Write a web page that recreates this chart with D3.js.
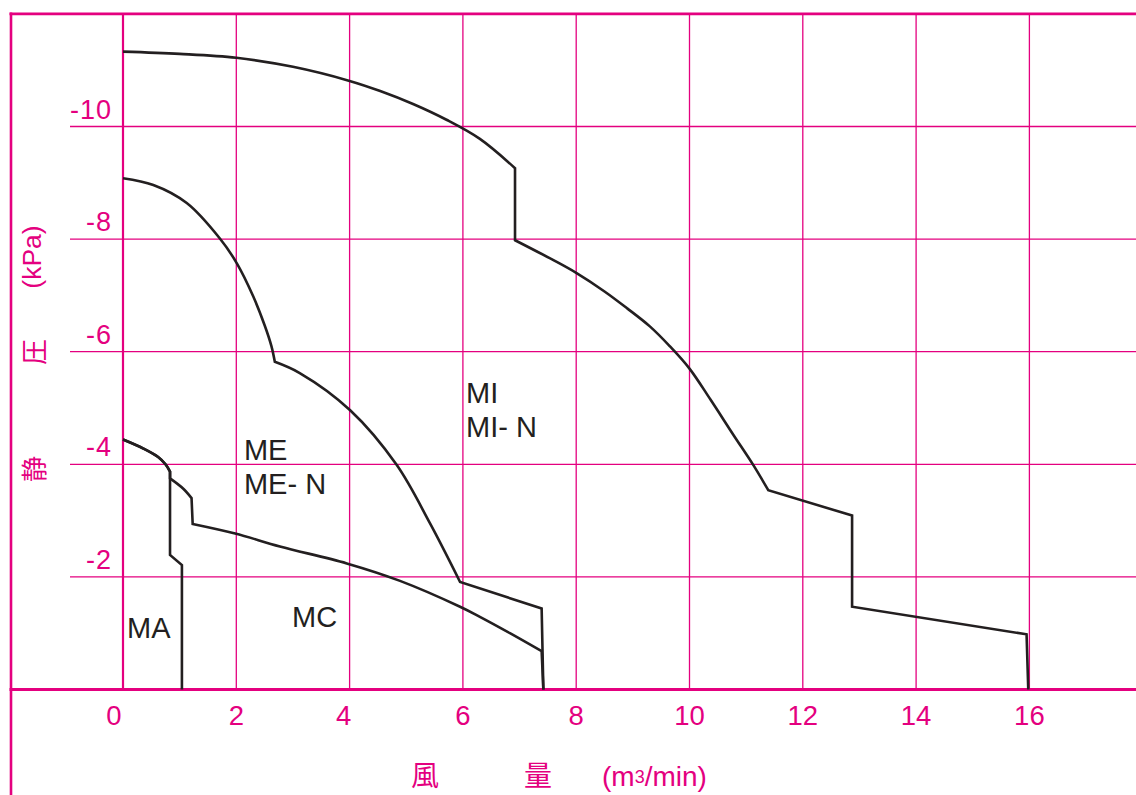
<!DOCTYPE html>
<html>
<head>
<meta charset="utf-8">
<script src="https://cdn.jsdelivr.net/npm/d3@7"></script>
<style>
  html, body { margin: 0; padding: 0; background: #ffffff; }
  svg { display: block; }
</style>
</head>
<body>
<svg id="chart" width="1136" height="795"></svg>
<script>
// ---------- data (flow m3/min, static pressure kPa) ----------
const xTicks = [0, 2, 4, 6, 8, 10, 12, 14, 16];
const yTicks = [-2, -4, -6, -8, -10];
const xTickLabels = ["0", "2", "4", "6", "8", "10", "12", "14", "16"];
const yTickLabels = ["-2", "-4", "-6", "-8", "-10"];

// MI / MI-N
const miArcHigh = [[0, -11.33], [1, -11.29], [2, -11.22], [3, -11.06], [4, -10.81], [4.54, -10.63], [5.12, -10.40], [5.71, -10.12], [6.30, -9.78], [6.92, -9.26]];
const miArcLow  = [[6.92, -7.98], [7.59, -7.63], [8.0, -7.40], [8.5, -7.07], [8.9, -6.77], [9.3, -6.45], [9.65, -6.10], [10.0, -5.70], [10.37, -5.15], [10.77, -4.53], [11.13, -3.98], [11.39, -3.54]];
const miTail    = [[11.39, -3.54], [12.87, -3.09], [12.87, -1.47], [15.95, -0.98], [15.98, 0]];

// ME / ME-N
const meArcHigh = [[0, -9.08], [0.535, -8.96], [1.125, -8.64], [1.71, -8.01], [2.01, -7.57], [2.30, -6.98], [2.50, -6.47], [2.62, -6.10], [2.68, -5.82]];
const meArcLow  = [[2.68, -5.82], [3.12, -5.62], [4.01, -4.96], [4.83, -3.99], [5.42, -2.95], [5.95, -1.91]];
const meTail    = [[5.95, -1.91], [7.39, -1.44], [7.42, 0]];

// MA
const maArc  = [[0, -4.44], [0.36, -4.28], [0.62, -4.13], [0.75, -4.00], [0.83, -3.87]];
const maTail = [[0.83, -3.87], [0.83, -2.39], [1.04, -2.21], [1.04, 0]];

// MC
const mcArc   = [[0, -4.44], [0.36, -4.28], [0.62, -4.13], [0.75, -4.00], [0.83, -3.87]];
const mcStep  = [[0.83, -3.75], [1.06, -3.57], [1.21, -3.40]];
const mcCurve = [[1.23, -2.94], [1.98, -2.77], [2.77, -2.54], [3.95, -2.24], [4.89, -1.93], [5.95, -1.47], [6.30, -1.29], [6.83, -1.00], [7.39, -0.68]];
const mcTail  = [[7.39, -0.68], [7.42, 0]];

const seriesLabelText = ["MI", "MI- N", "ME", "ME- N", "MC", "MA"];
const seriesLabelAt   = [[6.09, -5.09], [6.09, -4.48], [2.17, -4.08], [2.17, -3.47], [3.02, -1.11], [0.106, -0.91]];

// ---------- layout ----------
const MAG = "#e4007f";
const INK = "#231f20";
const FONT = "'Liberation Sans', Arial, Helvetica, sans-serif";
const CJK = "'Noto Sans CJK JP', 'Noto Sans CJK SC', sans-serif";

const svg = d3.select("#chart");
const x = d3.scaleLinear().domain([0, 18]).range([123, 123 + 18 * 56.65]);
const y = d3.scaleLinear().domain([0, -12]).range([689.5, 13.9]);

const grid = svg.append("g");
grid.selectAll("line.v").data(xTicks.filter(d => d !== 0)).join("line")
  .attr("x1", d => x(d)).attr("x2", d => x(d))
  .attr("y1", y(-12)).attr("y2", y(0))
  .attr("stroke", MAG).attr("stroke-width", 1.3);
grid.selectAll("line.h").data(yTicks).join("line")
  .attr("x1", 70).attr("x2", 1136)
  .attr("y1", d => y(d)).attr("y2", d => y(d))
  .attr("stroke", MAG).attr("stroke-width", 1.3);
grid.append("line").attr("x1", x(0)).attr("x2", x(0)).attr("y1", y(-12)).attr("y2", y(0))
  .attr("stroke", MAG).attr("stroke-width", 2.2);
grid.append("line").attr("x1", 9.5).attr("x2", 1136).attr("y1", y(-12)).attr("y2", y(-12))
  .attr("stroke", MAG).attr("stroke-width", 2.6);
grid.append("line").attr("x1", 11).attr("x2", 11).attr("y1", y(-12) - 1.3).attr("y2", 795)
  .attr("stroke", MAG).attr("stroke-width", 2.6);
grid.append("line").attr("x1", 9.5).attr("x2", 1136).attr("y1", y(0)).attr("y2", y(0))
  .attr("stroke", MAG).attr("stroke-width", 3);

// tick labels
const tickNudge = { 0: -9, 4: -6 };
svg.append("g").selectAll("text").data(xTicks).join("text")
  .attr("x", d => x(d) + (tickNudge[d] || 0)).attr("y", 725)
  .attr("text-anchor", "middle")
  .attr("font-family", FONT).attr("font-size", 27.5).attr("fill", MAG)
  .text((d, i) => xTickLabels[i]);
svg.append("g").selectAll("text").data(yTicks).join("text")
  .attr("x", 112).attr("y", d => y(d) - 8)
  .attr("text-anchor", "end")
  .attr("font-family", FONT).attr("font-size", 27).attr("letter-spacing", 1).attr("fill", MAG)
  .text((d, i) => yTickLabels[i]);

// axis titles
const yt = svg.append("g").attr("fill", MAG);
[["静", 469, CJK, 26], ["圧", 352, CJK, 26], ["(kPa)", 257, FONT, 26.5]].forEach(([t, cy, f, fs]) => {
  yt.append("text").attr("transform", `translate(32,${cy}) rotate(-90)`)
    .attr("text-anchor", "middle").attr("dominant-baseline", "central")
    .attr("font-family", f).attr("font-size", fs).text(t);
});
const xt = svg.append("g").attr("fill", MAG);
xt.append("text").attr("x", 425).attr("y", 786).attr("text-anchor", "middle")
  .attr("font-family", CJK).attr("font-size", 28).text("風");
xt.append("text").attr("x", 538).attr("y", 786).attr("text-anchor", "middle")
  .attr("font-family", CJK).attr("font-size", 28).text("量");
const unit = xt.append("text").attr("x", 602).attr("y", 786)
  .attr("font-family", FONT).attr("font-size", 28);
unit.append("tspan").text("(m");
unit.append("tspan").attr("font-size", 18).attr("dy", -3).text("3");
unit.append("tspan").attr("dy", 3).text("/min)");

// ---------- curves ----------
const series = [
  { name: "MI", parts: [[miArcHigh, true], [miArcLow, true], [miTail, false]] },
  { name: "ME", parts: [[meArcHigh, true], [meArcLow, true], [meTail, false]] },
  { name: "MA", parts: [[maArc, true], [maTail, false]] },
  { name: "MC", parts: [[mcArc, true], [mcStep, true], [mcCurve, true], [mcTail, false]] }
];
function buildPath(parts) {
  let d = "";
  parts.forEach(([pts, smooth], i) => {
    const gen = d3.line().x(p => x(p[0])).y(p => y(p[1]))
      .curve(smooth ? d3.curveCatmullRom.alpha(0.5) : d3.curveLinear);
    let s = gen(pts);
    if (i > 0) s = "L" + s.slice(1);
    d += s;
  });
  return d;
}
svg.append("g").selectAll("path").data(series).join("path")
  .attr("d", s => buildPath(s.parts))
  .attr("fill", "none").attr("stroke", INK).attr("stroke-width", 2.6)
  .attr("stroke-linejoin", "miter");

// series labels
svg.append("g").selectAll("text").data(seriesLabelText).join("text")
  .attr("x", (d, i) => x(seriesLabelAt[i][0]) - 2)
  .attr("y", (d, i) => y(seriesLabelAt[i][1]))
  .attr("font-family", FONT).attr("font-size", 29).attr("fill", INK)
  .text(d => d);
</script>
</body>
</html>
